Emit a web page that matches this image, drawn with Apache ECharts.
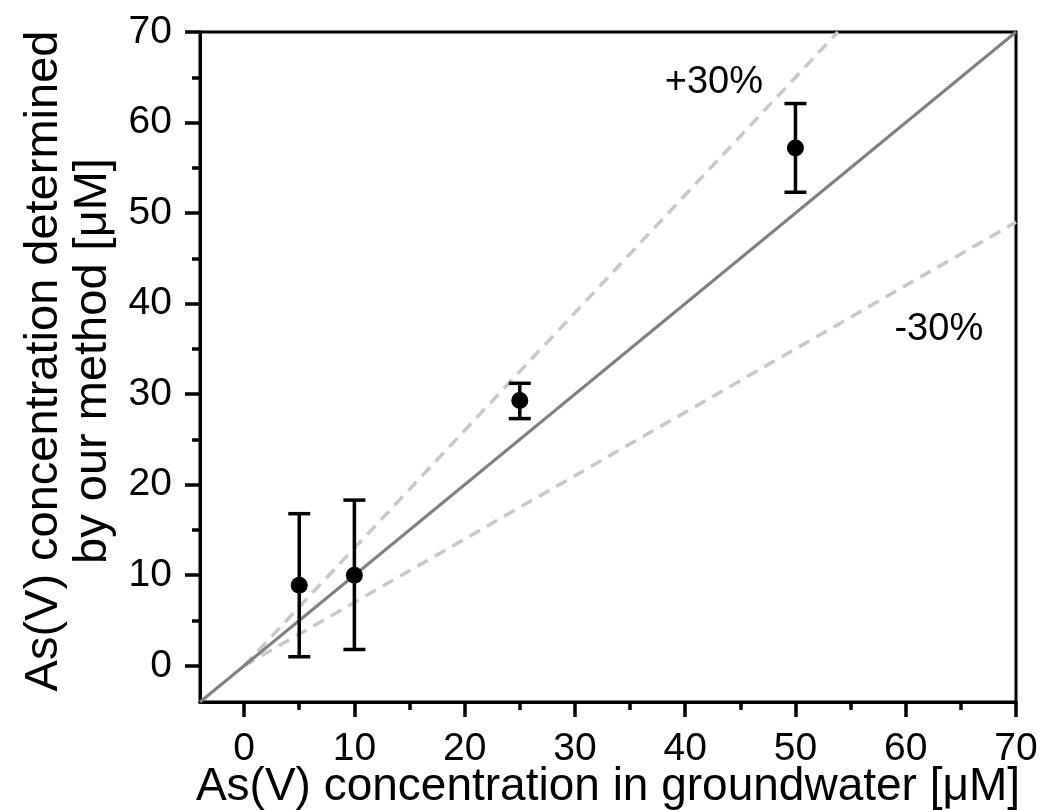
<!DOCTYPE html>
<html>
<head>
<meta charset="utf-8">
<script src="https://cdn.jsdelivr.net/npm/echarts@6/dist/echarts.min.js"></script>
<style>
  html, body { margin: 0; padding: 0; background: #fff; }
  #chart { width: 1040px; height: 810px; }
</style>
</head>
<body>
<div id="chart"></div>
<script>
// As(V) in groundwater samples vs. values determined by the method
const groundwater = [5, 10, 25, 50];
const measured    = [8.9, 10.0, 29.3, 57.2];
const errLow      = [1.0, 1.8, 27.3, 52.3];
const errHigh     = [16.8, 18.3, 31.2, 62.1];

// Reference lines: 1:1 and ±30 % bounds (end points)
const identityX = [-4, 70];
const identityY = [-4, 70];
const plus30X   = [0, 53.85];
const plus30Y   = [0, 70];
const minus30X  = [0, 70];
const minus30Y  = [0, 49];

// Bound annotations
const boundNames = ['+30%', '-30%'];
const boundPosX  = [42.6, 63.0];
const boundPosY  = [64.4, 37.1];

// Axis ticks
const majorTicks = [0, 10, 20, 30, 40, 50, 60, 70];
const minorTicks = [5, 15, 25, 35, 45, 55, 65];
const axisMin = -4, axisMax = 70;

const FONT = '"Liberation Sans", Arial, sans-serif';

const zip = (a, b) => a.map((v, i) => [v, b[i]]);

// Labelled axis (line + tick labels + title); ticks come from tick-only axes
function labelAxis(extra) {
  return Object.assign({
    type: 'value',
    min: axisMin,
    max: axisMax,
    splitLine: { show: false },
    axisLine: { show: true, onZero: false, lineStyle: { color: '#000', width: 3 } },
    axisTick: { show: false }
  }, extra);
}

// Tick-only axis sharing the same scale
function tickAxis(position, values, len) {
  return {
    type: 'value',
    position: position,
    min: axisMin,
    max: axisMax,
    splitLine: { show: false },
    axisLine: { show: false, onZero: false },
    axisTick: { show: true, inside: false, length: len, customValues: values,
                lineStyle: { color: '#000', width: 3.5 } },
    axisLabel: { show: false }
  };
}

const chart = echarts.init(document.getElementById('chart'), null, { renderer: 'canvas' });

chart.setOption({
  backgroundColor: '#fff',
  animation: false,
  grid: {
    left: 200, top: 32, right: 24, bottom: 108,
    containLabel: false,
    outerBoundsMode: 'none',
    show: true, borderColor: '#000', borderWidth: 3, backgroundColor: 'transparent'
  },
  xAxis: [
    labelAxis({
      position: 'bottom',
      axisLabel: { show: true, customValues: majorTicks, color: '#000',
                   fontFamily: FONT, fontSize: 39, margin: 28 },
      name: 'As(V) concentration in groundwater [μM]',
      nameLocation: 'middle',
      nameGap: 62,
      nameMoveOverlap: false,
      nameTextStyle: { color: '#000', fontFamily: FONT, fontSize: 46 }
    }),
    tickAxis('bottom', majorTicks, 15),
    tickAxis('bottom', minorTicks, 8)
  ],
  yAxis: [
    labelAxis({
      position: 'left',
      axisLabel: { show: true, customValues: majorTicks, color: '#000',
                   fontFamily: FONT, fontSize: 39, margin: 28 },
      name: 'As(V) concentration determined\nby our method [μM]',
      nameLocation: 'middle',
      nameRotate: 90,
      nameGap: 75,
      nameTextStyle: { color: '#000', fontFamily: FONT, fontSize: 47, lineHeight: 49,
                       padding: [0, 0, 0, 12] }
    }),
    tickAxis('left', majorTicks, 15),
    tickAxis('left', minorTicks, 8)
  ],
  series: [
    {
      name: '1:1',
      type: 'line',
      data: zip(identityX, identityY),
      symbol: 'none',
      lineStyle: { color: '#808080', width: 3 },
      z: 2
    },
    {
      name: '+30%',
      type: 'line',
      data: zip(plus30X, plus30Y),
      symbol: 'none',
      lineStyle: { color: '#c8c8c8', width: 3.5, type: [12, 8] },
      z: 1
    },
    {
      name: '-30%',
      type: 'line',
      data: zip(minus30X, minus30Y),
      symbol: 'none',
      lineStyle: { color: '#c8c8c8', width: 3.5, type: [12, 8] },
      z: 1
    },
    {
      name: 'error',
      type: 'custom',
      data: groundwater.map((x, i) => [x, errLow[i], errHigh[i]]),
      encode: { x: 0, y: [1, 2] },
      renderItem: function (params, api) {
        const x = api.value(0);
        const top = api.coord([x, api.value(2)]);
        const bot = api.coord([x, api.value(1)]);
        const half = 11;
        const style = { stroke: '#000', lineWidth: 3.5, fill: null };
        return {
          type: 'group',
          children: [
            { type: 'line', shape: { x1: top[0], y1: top[1], x2: bot[0], y2: bot[1] }, style: style },
            { type: 'line', shape: { x1: top[0] - half, y1: top[1], x2: top[0] + half, y2: top[1] }, style: style },
            { type: 'line', shape: { x1: bot[0] - half, y1: bot[1], x2: bot[0] + half, y2: bot[1] }, style: style }
          ]
        };
      },
      z: 3
    },
    {
      name: 'measured',
      type: 'scatter',
      data: zip(groundwater, measured),
      symbol: 'circle',
      symbolSize: 17,
      itemStyle: { color: '#000', opacity: 1 },
      z: 4
    },
    {
      name: 'bounds',
      type: 'scatter',
      data: boundNames.map((n, i) => ({ name: n, value: [boundPosX[i], boundPosY[i]] })),
      symbolSize: 0,
      silent: true,
      itemStyle: { opacity: 1 },
      label: {
        show: true,
        position: 'inside',
        formatter: '{b}',
        color: '#000',
        fontFamily: FONT,
        fontSize: 38
      },
      z: 5
    }
  ]
});
</script>
</body>
</html>
